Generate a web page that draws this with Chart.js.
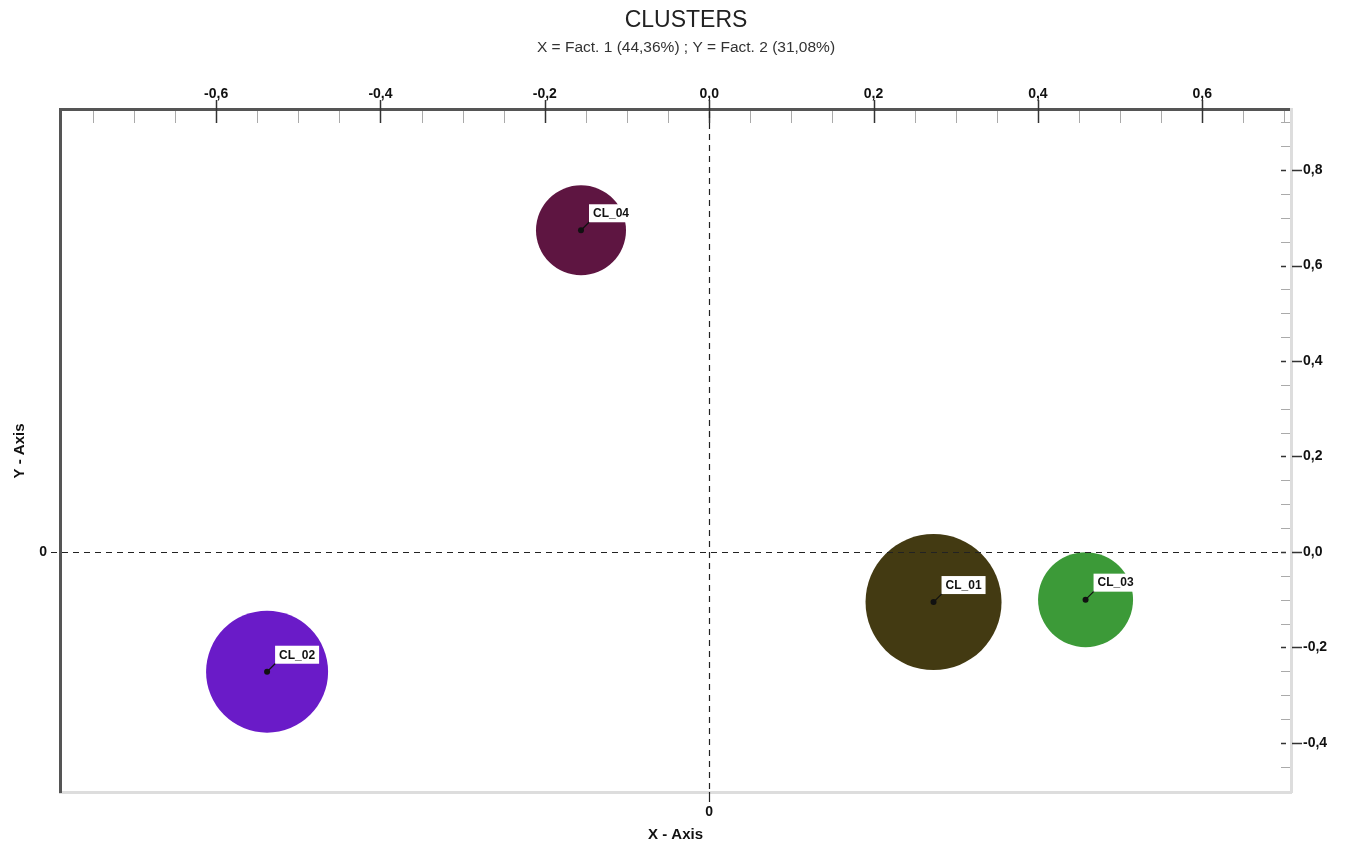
<!DOCTYPE html>
<html lang="pt-BR">
<head>
    <meta charset="UTF-8">
    <title>Clusters</title>
    <script src="https://cdn.jsdelivr.net/npm/chart.js"></script>
    <style>
        body { margin: 0; background: #fff; }
        .chart-box { width: 1350px; height: 844px; }
    </style>
</head>
<body>
    <div class="chart-box">
        <canvas id="clusterChart" width="1350" height="844"></canvas>
    </div>

    <script>
        // Dados
        const clusterNames = ['CL_01', 'CL_02', 'CL_03', 'CL_04'];
        const fact1 = [0.273, -0.538, 0.458, -0.156];   // X = Fact. 1
        const fact2 = [-0.105, -0.251, -0.100, 0.674];  // Y = Fact. 2
        const clusterSize = [68, 61, 47.5, 45];         // tamanho da bolha
        const clusterColors = ['#433a12', '#6a1bc8', '#3c9a38', '#5e1541'];

        const xTickValues = [-0.6, -0.4, -0.2, 0.0, 0.2, 0.4, 0.6];
        const yTickValues = [-0.4, -0.2, 0.0, 0.2, 0.4, 0.6, 0.8];
        const xRange = [-0.79, 0.708];
        const yRange = [-0.503, 0.926];

        const FONT = 'Liberation Sans, Arial, sans-serif';
        const fmt = v => v.toFixed(1).replace('.', ',');

        const points = fact1.map((x, i) => ({ x: x, y: fact2[i], r: clusterSize[i] }));

        // Eixos, marcas menores, linhas tracejadas e rótulos das bolhas
        const decorations = {
            id: 'decorations',
            afterDatasetsDraw(chart) {
                const ctx = chart.ctx;
                const area = chart.chartArea;
                const sx = chart.scales.x;
                const sy = chart.scales.y;
                ctx.save();

                // marcas do eixo superior
                for (let v = -0.75; v <= 0.70001; v += 0.05) {
                    const px = Math.round(sx.getPixelForValue(v)) + 0.5;
                    const major = xTickValues.some(t => Math.abs(t - v) < 1e-6);
                    ctx.beginPath();
                    ctx.strokeStyle = major ? '#333' : '#aaa';
                    ctx.lineWidth = major ? 1.5 : 1;
                    ctx.moveTo(px, major ? area.top - 10 : area.top + 1);
                    ctx.lineTo(px, area.top + 13);
                    ctx.stroke();
                }

                // marcas do eixo direito
                for (let v = -0.45; v <= 0.90001; v += 0.05) {
                    const py = Math.round(sy.getPixelForValue(v)) + 0.5;
                    const major = yTickValues.some(t => Math.abs(t - v) < 1e-6);
                    ctx.beginPath();
                    if (major) {
                        ctx.strokeStyle = '#333';
                        ctx.lineWidth = 1.5;
                        ctx.moveTo(area.right - 10, py);
                        ctx.lineTo(area.right - 5, py);
                        ctx.moveTo(area.right + 1, py);
                        ctx.lineTo(area.right + 11, py);
                    } else {
                        ctx.strokeStyle = '#aaa';
                        ctx.lineWidth = 1;
                        ctx.moveTo(area.right - 10, py);
                        ctx.lineTo(area.right - 1, py);
                    }
                    ctx.stroke();
                }

                // linhas tracejadas da origem
                const x0 = Math.round(sx.getPixelForValue(0)) + 0.5;
                const y0 = Math.round(sy.getPixelForValue(0)) + 0.5;
                ctx.strokeStyle = '#222';
                ctx.lineWidth = 1.2;
                ctx.setLineDash([6, 5]);
                ctx.beginPath();
                ctx.moveTo(area.left - 9, y0);
                ctx.lineTo(area.right - 12, y0);
                ctx.moveTo(x0, area.top + 2);
                ctx.lineTo(x0, area.bottom);
                ctx.stroke();
                ctx.setLineDash([]);
                ctx.beginPath();
                ctx.moveTo(x0, area.bottom);
                ctx.lineTo(x0, area.bottom + 10);
                ctx.stroke();

                // rótulos das bolhas
                const meta = chart.getDatasetMeta(0);
                ctx.font = 'bold 12px ' + FONT;
                ctx.textBaseline = 'middle';
                meta.data.forEach((el, i) => {
                    const cx = el.x, cy = el.y;
                    const bx = cx + 8, by = cy - 26;
                    const w = ctx.measureText(clusterNames[i]).width + 8;
                    ctx.strokeStyle = '#111';
                    ctx.lineWidth = 1.2;
                    ctx.beginPath();
                    ctx.moveTo(cx, cy);
                    ctx.lineTo(bx + 1, by + 17);
                    ctx.stroke();
                    ctx.fillStyle = '#fff';
                    ctx.fillRect(bx, by, w, 18);
                    ctx.fillStyle = '#111';
                    ctx.fillText(clusterNames[i], bx + 4, by + 9.5);
                    ctx.beginPath();
                    ctx.arc(cx, cy, 3, 0, Math.PI * 2);
                    ctx.fill();
                });
                ctx.restore();
            }
        };

        const tickFont = { family: FONT, size: 14, weight: 'bold' };
        const titleFont = { family: FONT, size: 15, weight: 'bold' };

        const clusterChart = new Chart(document.getElementById('clusterChart'), {
            type: 'bubble',
            data: {
                datasets: [{
                    label: 'Clusters',
                    data: points,
                    backgroundColor: clusterColors,
                    borderWidth: 0,
                    xAxisID: 'x',
                    yAxisID: 'y'
                }]
            },
            options: {
                responsive: false,
                animation: false,
                events: [],
                layout: { padding: { left: 22, right: 0, top: 0, bottom: 0 }, autoPadding: false },
                plugins: {
                    legend: { display: false },
                    tooltip: { enabled: false },
                    title: {
                        display: true,
                        text: 'CLUSTERS',
                        color: '#222',
                        font: { family: FONT, size: 23, weight: 'normal' },
                        padding: { top: 7, bottom: 3 }
                    },
                    subtitle: {
                        display: true,
                        text: 'X = Fact. 1 (44,36%) ; Y = Fact. 2 (31,08%)',
                        color: '#333',
                        font: { family: FONT, size: 15.5 },
                        padding: { top: 1, bottom: 0 }
                    }
                },
                scales: {
                    x: {
                        type: 'linear',
                        position: 'top',
                        min: xRange[0],
                        max: xRange[1],
                        afterBuildTicks: s => { s.ticks = xTickValues.map(v => ({ value: v })); },
                        afterFit: s => { s.height = 52.8; },
                        ticks: { callback: v => fmt(v), font: tickFont, color: '#111', padding: 7, autoSkip: false, maxRotation: 0 },
                        grid: { display: false, drawTicks: false },
                        border: { display: true, color: '#555', width: 3 }
                    },
                    x2: {
                        type: 'linear',
                        position: 'bottom',
                        min: xRange[0],
                        max: xRange[1],
                        afterBuildTicks: s => { s.ticks = [{ value: 0 }]; },
                        afterFit: s => { s.height = 52; },
                        ticks: { callback: () => '0', font: tickFont, color: '#111', padding: 12, autoSkip: false, maxRotation: 0 },
                        grid: { display: false, drawTicks: false },
                        border: { display: true, color: '#ddd', width: 3 },
                        title: { display: true, text: 'X - Axis', color: '#111', font: titleFont, padding: { top: 0, bottom: 0 } }
                    },
                    y: {
                        type: 'linear',
                        position: 'right',
                        min: yRange[0],
                        max: yRange[1],
                        afterBuildTicks: s => { s.ticks = yTickValues.map(v => ({ value: v })); },
                        afterFit: s => { s.width = 59; },
                        ticks: { callback: v => fmt(v), font: tickFont, color: '#111', padding: 12, autoSkip: false },
                        grid: { display: false, drawTicks: false },
                        border: { display: true, color: '#ddd', width: 3 }
                    },
                    y2: {
                        type: 'linear',
                        position: 'left',
                        min: yRange[0],
                        max: yRange[1],
                        afterBuildTicks: s => { s.ticks = [{ value: 0 }]; },
                        afterFit: s => { s.width = 38; },
                        ticks: { callback: () => '0', font: tickFont, color: '#111', padding: 13, autoSkip: false },
                        grid: { display: false, drawTicks: false },
                        border: { display: true, color: '#555', width: 3 },
                        title: { display: true, text: 'Y - Axis', color: '#111', font: titleFont, padding: { top: -11, bottom: 0 } }
                    }
                }
            },
            plugins: [decorations]
        });
    </script>
</body>
</html>
